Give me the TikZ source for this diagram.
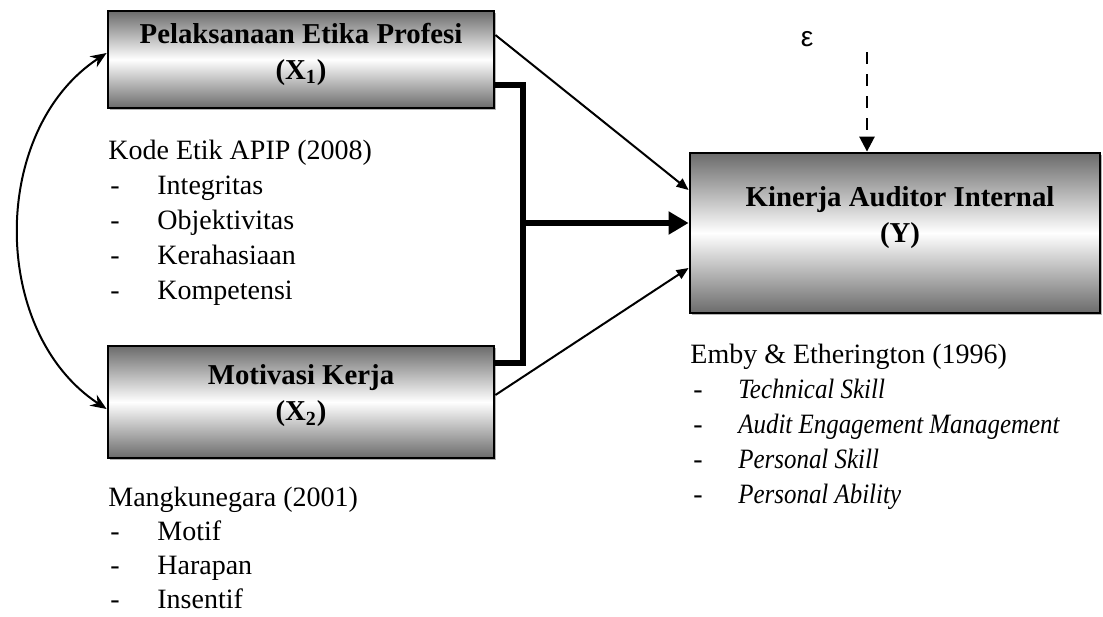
\documentclass[tikz,border=0pt]{standalone}
\usepackage{fontspec}
\setmainfont{Liberation Serif}
\newfontfamily\epsfont{Liberation Sans}
\newfontfamily\embyfont[FakeStretch=0.89]{Liberation Serif}
\usetikzlibrary{arrows.meta,shadows}
\tikzset{
    factorbox/.style={draw, line width=1.4pt, top color=black!58, bottom color=black!58, middle color=white,
        drop shadow={shadow xshift=0.8pt, shadow yshift=-0.8pt, fill=black!50, opacity=0.6}},
    factortext/.style={align=center, inner sep=0pt, font=\fontsize{14.4}{18}\selectfont\bfseries},
    reftext/.style={anchor=base west, inner sep=0pt, font=\fontsize{14}{17.5}\selectfont},
    pathline/.style={draw, line width=1pt, -{Triangle[length=6pt, width=5pt]}},
    jointline/.style={draw, line width=3pt},
    jointarrow/.style={draw, line width=3pt, -{Triangle[length=10pt, width=11pt]}},
    corrarrow/.style={draw, line width=1pt, {Stealth[length=8pt, width=6.5pt]}-{Stealth[length=8pt, width=6.5pt]}},
    errarrow/.style={draw, line width=1.3pt, dash pattern=on 6pt off 5pt, -{Triangle[length=7.5pt, width=7.5pt]}}
}
\begin{document}
\begin{tikzpicture}[x=0.5pt, y=-0.5pt]
    \useasboundingbox (0,0) rectangle (1103,616);

    % variabel
    \node[factorbox, minimum width=193pt, minimum height=48.5pt] (x1) at (301,59.5) {};
    \node[factortext] (x1txt) at (301,54) {Pelaksanaan Etika Profesi\\(X\textsubscript{1})};
    \node[factorbox, minimum width=193pt, minimum height=56pt] (x2) at (301,402) {};
    \node[factortext] (x2txt) at (301,396) {Motivasi Kerja\\(X\textsubscript{2})};
    \node[factorbox, minimum width=205pt, minimum height=80pt] (y) at (895,233) {};
    \node[factortext] (ytxt) at (900,218) {Kinerja Auditor Internal\\(Y)};

    \node[font=\epsfont\fontsize{14}{17}\selectfont, inner sep=0pt] (eps) at (807,39) {ε};
    \coordinate (epstop) at (867,52);
    \coordinate (join) at (523,223);

    % indikator
    \node[reftext] (kodehead) at (108,159) {Kode Etik APIP (2008)};
    \foreach \ind [count=\i] in {Integritas,Objektivitas,Kerahasiaan,Kompetensi} {
        \node[reftext] (kodedash\i) at (110,159+35*\i) {-};
        \node[reftext] (kodeitem\i) at (157,159+35*\i) {\ind};
    }
    \node[reftext] (mangkuhead) at (108,506) {Mangkunegara (2001)};
    \foreach \ind [count=\i] in {Motif,Harapan,Insentif} {
        \node[reftext] (mangkudash\i) at (110,506+34*\i) {-};
        \node[reftext] (mangkuitem\i) at (157,506+34*\i) {\ind};
    }
    \node[reftext] (embyhead) at (690,363) {Emby \& Etherington (1996)};
    \foreach \ind [count=\i] in {Technical Skill,Audit Engagement Management,Personal Skill,Personal Ability} {
        \node[reftext] (embydash\i) at (693,363+35*\i) {-};
        \node[reftext] (embyitem\i) at (738,363+35*\i) {\embyfont\itshape\ind};
    }

    % hubungan
    \draw[corrarrow] (x1.west |- 0,53) .. controls +(-117,77) and +(-117,-77) .. (x2.west |- 0,409);
    \draw[jointline] (x1.east |- 0,85) -| (join) |- (x2.east |- 0,363);
    \draw[jointarrow] (join) -- (y.west |- join);
    \draw[pathline] (x1.east |- 0,35) -- (y.west |- 0,190);
    \draw[pathline] (x2.east |- 0,395) -- (y.west |- 0,268);
    \draw[errarrow] (epstop) -- (y.north -| epstop);
\end{tikzpicture}
\end{document}
